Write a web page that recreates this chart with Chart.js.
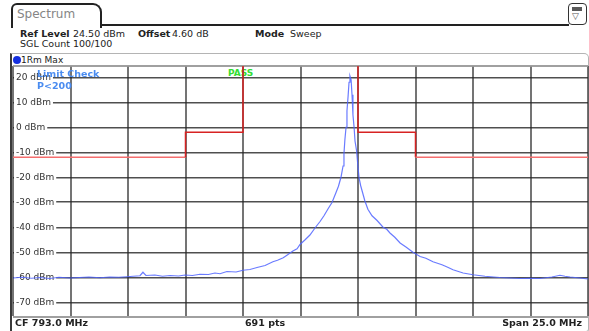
<!DOCTYPE html>
<html>
<head>
<meta charset="utf-8">
<script src="https://cdn.jsdelivr.net/npm/chart.js@4.4.1/dist/chart.umd.min.js"></script>
<style>
  body { margin: 0; background: #fff; font-family: 'DejaVu Sans', Verdana, sans-serif; }
  #wrap { position: relative; width: 589px; height: 331px; overflow: hidden; }
  .abs { position: absolute; white-space: nowrap; line-height: 1; }
  .info { font-size: 9.5px; color: #222; }
  .b { font-weight: bold; }
</style>
</head>
<body>
<div id="wrap">
  <!-- tab + top line -->
  <div class="abs" style="left:11px;top:3px;width:87px;height:23px;border:2px solid #222;border-bottom:none;border-radius:6px 9px 0 0;"></div>
  <div class="abs" style="left:100px;top:24px;width:469px;border-top:2px solid #222;"></div>
  <div class="abs" style="left:17px;top:8px;font-size:12px;color:#858585;">Spectrum</div>
  <div class="abs" style="left:568px;top:3px;width:17px;height:20px;border:1.5px solid #333;border-radius:4px;"></div>
  <div class="abs" style="left:572px;top:7px;width:10px;height:4px;background:#5a5a5a;"></div>
  <div class="abs" style="left:572px;top:12px;font-size:9px;color:#555;">▽</div>

  <!-- header info -->
  <div class="abs info b" style="left:20px;top:29px;">Ref Level</div>
  <div class="abs info" style="left:73px;top:29px;">24.50 dBm</div>
  <div class="abs info b" style="left:138px;top:29px;">Offset</div>
  <div class="abs info" style="left:172px;top:29px;">4.60 dB</div>
  <div class="abs info b" style="left:255px;top:29px;">Mode</div>
  <div class="abs info" style="left:290px;top:29px;">Sweep</div>
  <div class="abs info" style="left:20px;top:39px;">SGL Count 100/100</div>

  <!-- frame around trace window -->
  <div class="abs" style="left:10px;top:53px;width:576px;height:277px;border:1px solid #b4b4b4;border-left:2px solid #3a3a3a;border-radius:0 5px 3px 0;"></div>
  <div class="abs" style="left:13px;top:56px;width:8px;height:8px;border-radius:50%;background:#1530e0;"></div>
  <div class="abs" style="left:21px;top:56px;font-size:9px;color:#222;">1Rm Max</div>

  <div class="abs b" style="left:228px;top:69px;font-size:9px;color:#33dd33;">PASS</div>

  <canvas id="spec" width="589" height="331" style="position:absolute;left:0;top:0;"></canvas>

  <div class="abs b" style="left:37px;top:69px;font-size:9.5px;color:#4a8cf0;z-index:2;">Limit Check</div>
  <div class="abs b" style="left:37px;top:81px;font-size:9.5px;color:#4a8cf0;z-index:2;">P&lt;200</div>

  <!-- footer -->
  <div class="abs info b" style="left:15px;top:318px;">CF 793.0 MHz</div>
  <div class="abs info b" style="left:245px;top:318px;">691 pts</div>
  <div class="abs info b" style="right:7px;top:318px;">Span 25.0 MHz</div>
</div>

<script>
// trace 1Rm Max
const freqMHz = [
  780.5, 780.9, 781.3, 781.67, 782.1, 782.5, 782.98, 783.4, 783.8, 784.28,
  784.7, 785.1, 785.59, 786.02, 786.15, 786.28, 786.67, 787.0, 787.33, 787.7,
  787.98, 788.3, 788.63, 789.0, 789.28, 789.5, 789.8, 790.2, 790.5, 790.8,
  791.11, 791.46, 791.8, 792.0, 792.25, 792.41, 792.67, 792.85, 792.98, 793.2,
  793.41, 793.63, 793.85, 794.02, 794.2, 794.37, 794.54, 794.65, 794.76, 794.85,
  794.89, 794.93, 794.98, 795.02, 795.07, 795.11, 795.15, 795.2, 795.24, 795.28,
  795.33, 795.37, 795.44, 795.5, 795.55, 795.62, 795.8, 795.93, 796.11, 796.33,
  796.59, 796.75, 796.89, 797.1, 797.33, 797.6, 797.89, 798.2, 798.45, 798.76,
  799.15, 799.4, 799.63, 800.07, 800.5, 801.02, 801.4, 801.67, 802.1, 802.54,
  803.0, 803.41, 803.93, 804.28, 804.5, 804.72, 805.15, 805.5
];
const levelDbm = [
  -60.3, -60.0, -60.4, -60.1, -60.5, -60.0, -60.3, -60.1, -59.9, -60.2,
  -59.9, -60.0, -59.7, -59.4, -58.0, -59.3, -59.1, -59.6, -59.3, -59.5,
  -59.1, -59.3, -58.8, -58.9, -58.3, -58.6, -57.7, -57.9, -57.2, -56.9,
  -56.1, -55.3, -53.8, -53.2, -52.2, -51.2, -49.5, -48.6, -46.9, -45.0,
  -43.1, -40.3, -37.7, -35.4, -32.6, -30.1, -26.2, -23.6, -20.0, -15.5,
  -10.5, -5.0, 0.0, 6.5, 12.5, 18.0, 20.5, 19.0, 13.0, 5.0,
  0.0, -5.5, -9.5, -16.0, -20.5, -23.5, -29.5, -32.8, -35.4, -37.3,
  -40.0, -40.8, -42.3, -44.0, -46.3, -48.0, -50.0, -51.7, -52.4, -53.8,
  -55.0, -56.0, -57.0, -58.3, -59.0, -59.6, -59.9, -60.1, -60.3, -60.5,
  -60.4, -60.5, -59.9, -59.2, -59.6, -59.9, -60.3, -60.7
];

// limit line (upper mask)
const limitMHz = [780.5, 788.0, 788.0, 790.5, 790.5, 795.5, 795.5, 798.0, 798.0, 805.5];
const limitDbm = [-12, -12, -2, -2, 30, 30, -2, -2, -12, -12];

// grid
const gridMHz = [780.5, 783.0, 785.5, 788.0, 790.5, 793.0, 795.5, 798.0, 800.5, 803.0, 805.5];
const levelTicks = [-70, -60, -50, -40, -30, -20, -10, 0, 10, 20];

const refLevel = 24.5;
const bottomLevel = -75.5;

// borde arriba y abajo del diagrama
const frameLines = {
    id: 'frameLines',
    beforeDatasetsDraw(chart) {
        const { ctx, chartArea } = chart;
        ctx.save();
        ctx.strokeStyle = 'rgba(150,150,150,0.9)';
        ctx.lineWidth = 2;
        ctx.beginPath();
        ctx.moveTo(chartArea.left, chartArea.top);
        ctx.lineTo(chartArea.right, chartArea.top);
        ctx.moveTo(chartArea.left, chartArea.bottom + 1);
        ctx.lineTo(chartArea.right, chartArea.bottom + 1);
        ctx.stroke();
        ctx.restore();
    }
};

const ctx = document.getElementById('spec').getContext('2d');
new Chart(ctx, {
    type: 'line',
    data: {
        datasets: [{
            label: '1Rm Max',
            data: freqMHz.map((f, i) => ({ x: f, y: levelDbm[i] })),
            borderColor: 'rgba(80,100,255,0.85)',
            borderWidth: 1.2,
            pointRadius: 0,
            tension: 0
        }, {
            label: 'Limit',
            data: limitMHz.map((f, i) => ({ x: f, y: limitDbm[i] })),
            borderWidth: 1.5,
            pointRadius: 0,
            tension: 0,
            borderColor: 'rgb(215,35,35)',
            segment: {
                borderColor: c => (c.p0.parsed.y === -12 && c.p1.parsed.y === -12) ? 'rgb(245,110,110)' : 'rgb(215,35,35)'
            }
        }]
    },
    options: {
        responsive: false,
        animation: false,
        devicePixelRatio: 1,
        layout: { padding: { left: 13, top: 66, right: 1, bottom: 15 } },
        plugins: {
            legend: { display: false },
            tooltip: { enabled: false }
        },
        scales: {
            x: {
                type: 'linear',
                min: gridMHz[0],
                max: gridMHz[gridMHz.length - 1],
                afterBuildTicks: s => { s.ticks = gridMHz.map(v => ({ value: v })); },
                afterFit: s => { s.height = 0; },
                ticks: { display: false },
                grid: { color: 'rgba(70,70,70,0.75)', lineWidth: 2, drawTicks: false },
                border: { display: false }
            },
            y: {
                type: 'linear',
                min: bottomLevel,
                max: refLevel,
                afterBuildTicks: s => { s.ticks = levelTicks.map(v => ({ value: v })); },
                afterFit: s => { s.width = 0; },
                ticks: {
                    mirror: true,
                    padding: 3,
                    autoSkip: false,
                    color: '#333',
                    font: { family: 'DejaVu Sans', size: 9 },
                    callback: v => v + ' dBm',
                    showLabelBackdrop: true,
                    backdropColor: '#fff',
                    backdropPadding: { top: 1, bottom: 1, left: 2, right: 2 }
                },
                grid: { color: 'rgba(35,35,35,0.8)', lineWidth: 1.5, drawTicks: false },
                border: { display: false }
            }
        }
    },
    plugins: [frameLines]
});
</script>
</body>
</html>
